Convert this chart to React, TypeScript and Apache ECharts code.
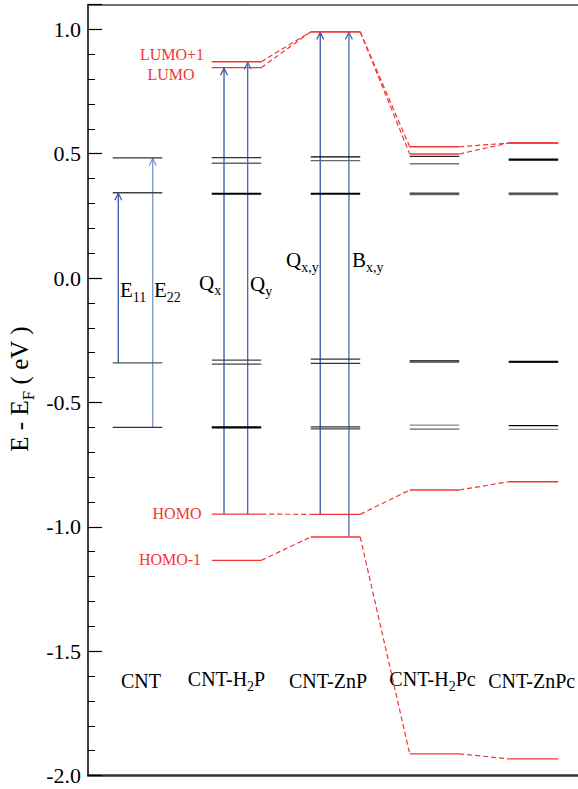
import React, { useEffect, useRef } from "react";
import * as echarts from "echarts";

// ---- data ----
const categories = ["CNT", "CNT-H2P", "CNT-ZnP", "CNT-H2Pc", "CNT-ZnPc"];
const yTickValues = [-2.0, -1.5, -1.0, -0.5, 0.0, 0.5, 1.0];

// black (tube) levels per system, eV
const cntLevels = [0.483, 0.343, -0.341, -0.6];
const h2pLevels = [0.484, 0.462, 0.339, -0.33, -0.346, -0.6];
const znpLevels = [0.487, 0.472, 0.339, -0.326, -0.343, -0.598, -0.606];
const h2pcLevels = [0.489, 0.46, 0.341, 0.336, -0.332, -0.337, -0.591, -0.607];
const znpcLevels = [0.476, 0.341, 0.336, -0.335, -0.339, -0.593, -0.608];

// molecular (red) levels, per system (CNT has none)
const lumoPlus1 = [null, 0.87, 0.99, 0.528, 0.543];
const lumo = [null, 0.846, 0.99, 0.499, 0.543];
const homo = [null, -0.949, -0.95, -0.852, -0.819];
const homoMinus1 = [null, -1.135, -1.041, -1.913, -1.933];

// transitions
const transitionNames = ["E11", "E22", "Qx", "Qy", "Qx,y", "Bx,y"];
const transitionColumn = [0, 0, 1, 1, 2, 2];
const transitionFrom = [cntLevels[2], cntLevels[3], homo[1], homo[1], homo[2], homoMinus1[2]];
const transitionTo = [cntLevels[1], cntLevels[0], lumo[1], lumoPlus1[1], lumo[2], lumoPlus1[2]];

// ---- styles / layout (kept apart from the data) ----
const HALF = 0.25;
const arrowOffsets = [-0.194, 0.154, -0.126, 0.113, -0.154, 0.136];
const arrowColors = ["#3853a6", "#7c90cb", "#3853a6", "#4d68b2", "#3853a6", "#4d68b2"];
const levelShades = [
  ["#333", "#444", "#555", "#333"],
  ["#333", "#666", "#000", "#444", "#444", "#000"],
  ["#000", "#666", "#000", "#333", "#333", "#333", "#444"],
  ["#222", "#777", "#444", "#666", "#444", "#444", "#888", "#666"],
  ["#000", "#444", "#666", "#000", "#222", "#000", "#888"],
];
const levelWidths = [
  [1.3, 1.3, 1.3, 1.3],
  [1.3, 1.5, 2.2, 1.3, 1.3, 2.2],
  [1.3, 1.3, 2.2, 1.3, 1.3, 1.3, 1.3],
  [1.3, 1.5, 1.3, 1.3, 1.5, 1.5, 1.3, 1.3],
  [2.2, 1.3, 1.3, 1.3, 1.3, 1.3, 1.3],
];
const RED = "#f43434";
const FONT = "Liberation Serif";

export default function App() {
  const ref = useRef<HTMLDivElement>(null);

  useEffect(() => {
    if (!ref.current) return;
    const chart = echarts.init(ref.current, undefined, { renderer: "svg" });

    const allLevels = [cntLevels, h2pLevels, znpLevels, h2pcLevels, znpcLevels];
    const blackData: number[][] = [];
    const blackStyle: { c: string; w: number }[] = [];
    allLevels.forEach((lv, i) => {
      lv.forEach((e, j) => {
        blackData.push([i + 0.5, e]);
        blackStyle.push({ c: levelShades[i][j], w: levelWidths[i][j] });
      });
    });

    const redSets = [lumoPlus1, lumo, homo, homoMinus1];
    const redData: number[][] = [];
    const connData: number[][] = [];
    redSets.forEach((set) => {
      for (let i = 0; i < set.length; i++) {
        if (set[i] == null) continue;
        redData.push([i + 0.5, set[i] as number]);
        if (i + 1 < set.length && set[i + 1] != null) {
          connData.push([i + 0.5 + HALF, set[i] as number, i + 1.5 - HALF, set[i + 1] as number]);
        }
      }
    });

    const arrowData = transitionNames.map((_, k) => [
      transitionColumn[k] + 0.5 + arrowOffsets[k],
      transitionFrom[k] as number,
      transitionTo[k] as number,
    ]);

    const levelRender = (styleFn: (i: number) => { c: string; w: number }) =>
      (params: any, api: any) => {
        const c = api.value(0);
        const e = api.value(1);
        const p1 = api.coord([c - HALF, e]);
        const p2 = api.coord([c + HALF, e]);
        const s = styleFn(params.dataIndex);
        return {
          type: "line",
          shape: { x1: p1[0], y1: p1[1], x2: p2[0], y2: p2[1] },
          style: { stroke: s.c, lineWidth: s.w },
        };
      };

    const sub = (size: number) => ({
      m: { fontSize: size, fontFamily: FONT, verticalAlign: "top", lineHeight: size },
      s: { fontSize: Math.round(size * 0.68), fontFamily: FONT, verticalAlign: "top", padding: [Math.round(size * 0.5), 0, 0, 0] },
    });

    const txt = (text: string, x: number, y: number, size: number, fill: string, align = "center", rich?: any) => ({
      type: "text",
      x,
      y,
      silent: true,
      style: {
        text,
        fill,
        fontSize: size,
        fontFamily: FONT,
        align,
        verticalAlign: "middle",
        rich,
      },
    });

    const labelRich = sub(20);
    const arrowRich = sub(21);

    const catText = [
      "{m|CNT}",
      "{m|CNT-H}{s|2}{m|P}",
      "{m|CNT-ZnP}",
      "{m|CNT-H}{s|2}{m|Pc}",
      "{m|CNT-ZnPc}",
    ];
    const catX = [141, 226.5, 328, 432.5, 531.7];

    const option: any = {
      animation: false,
      textStyle: { fontFamily: FONT },
      grid: { left: 88, right: 0, top: 4.5, bottom: 13.5, containLabel: false },
      xAxis: [
        {
          type: "value",
          min: 0,
          max: 4.95,
          position: "bottom",
          axisLine: { show: true, onZero: false, lineStyle: { color: "#333", width: 2.5 } },
          axisTick: { show: false },
          axisLabel: { show: false },
          splitLine: { show: false },
        },
        {
          type: "value",
          min: 0,
          max: 4.95,
          position: "top",
          axisLine: { show: true, onZero: false, lineStyle: { color: "#444", width: 1.5 } },
          axisTick: { show: false },
          axisLabel: { show: false },
          splitLine: { show: false },
        },
      ],
      yAxis: {
        type: "value",
        min: -2.0,
        max: 1.1,
        interval: 0.5,
        axisLine: { show: true, onZero: false, lineStyle: { color: "#000", width: 1.5 } },
        axisTick: { show: true, inside: true, length: 14, lineStyle: { color: "#000", width: 1.2 } },
        minorTick: { show: true, splitNumber: 5, length: 7, lineStyle: { color: "#000", width: 1 } },
        splitLine: { show: false },
        axisLabel: {
          margin: 7,
          color: "#000",
          fontSize: 22,
          fontFamily: FONT,
          formatter: (v: number) =>
            yTickValues.some((t) => Math.abs(t - v) < 1e-6) ? v.toFixed(1) : "",
        },
      },
      series: [
        {
          type: "custom",
          name: "transitions",
          silent: true,
          clip: false,
          data: arrowData,
          encode: { x: 0, y: [1, 2] },
          renderItem: (params: any, api: any) => {
            const x = api.value(0);
            const a = api.coord([x, api.value(1)]);
            const b = api.coord([x, api.value(2)]);
            const color = arrowColors[params.dataIndex];
            return {
              type: "group",
              children: [
                { type: "line", shape: { x1: a[0], y1: a[1], x2: b[0], y2: b[1] }, style: { stroke: color, lineWidth: 1.3 } },
                {
                  type: "polyline",
                  shape: { points: [[b[0] - 3.5, b[1] + 7.5], [b[0], b[1] + 0.5], [b[0] + 3.5, b[1] + 7.5]] },
                  style: { stroke: color, lineWidth: 1.2, fill: null },
                },
              ],
            };
          },
        },
        {
          type: "custom",
          name: "tube levels",
          silent: true,
          clip: false,
          data: blackData,
          renderItem: levelRender((i) => blackStyle[i]),
        },
        {
          type: "custom",
          name: "molecular levels",
          silent: true,
          clip: false,
          data: redData,
          renderItem: levelRender(() => ({ c: RED, w: 1.4 })),
        },
        {
          type: "custom",
          name: "correlation",
          silent: true,
          clip: false,
          data: connData,
          encode: { x: [0, 2], y: [1, 3] },
          renderItem: (params: any, api: any) => {
            const a = api.coord([api.value(0), api.value(1)]);
            const b = api.coord([api.value(2), api.value(3)]);
            return {
              type: "line",
              shape: { x1: a[0], y1: a[1], x2: b[0], y2: b[1] },
              style: { stroke: RED, lineWidth: 1.2, lineDash: [5, 3] },
            };
          },
        },
      ],
      graphic: [
        txt("LUMO+1", 172, 54, 16, RED),
        txt("LUMO", 171, 74, 16, RED),
        txt("HOMO", 177, 513, 16, RED),
        txt("HOMO-1", 170, 559, 16, RED),
        txt("{m|E}{s|11}", 120, 292, 21, "#000", "left", arrowRich),
        txt("{m|E}{s|22}", 154, 292, 21, "#000", "left", arrowRich),
        txt("{m|Q}{s|x}", 199, 285, 21, "#000", "left", arrowRich),
        txt("{m|Q}{s|y}", 250, 286, 21, "#000", "left", arrowRich),
        txt("{m|Q}{s|x,y}", 286, 262, 21, "#000", "left", arrowRich),
        txt("{m|B}{s|x,y}", 352, 262, 21, "#000", "left", arrowRich),
        ...catText.map((t, i) => txt(t, catX[i], 681, 20, "#000", "center", labelRich)),
        {
          type: "text",
          x: 22,
          y: 389,
          rotation: Math.PI / 2,
          silent: true,
          style: {
            text: "{m|E - E}{s|F}{m| ( eV )}",
            fill: "#000",
            fontSize: 25,
            fontFamily: FONT,
            align: "center",
            verticalAlign: "middle",
            rich: sub(25),
          },
        },
      ],
    };

    chart.setOption(option);
    return () => chart.dispose();
  }, []);

  return (
    <div
      ref={ref}
      style={{ position: "absolute", left: 0, top: 0, width: 578, height: 789 }}
    />
  );
}
